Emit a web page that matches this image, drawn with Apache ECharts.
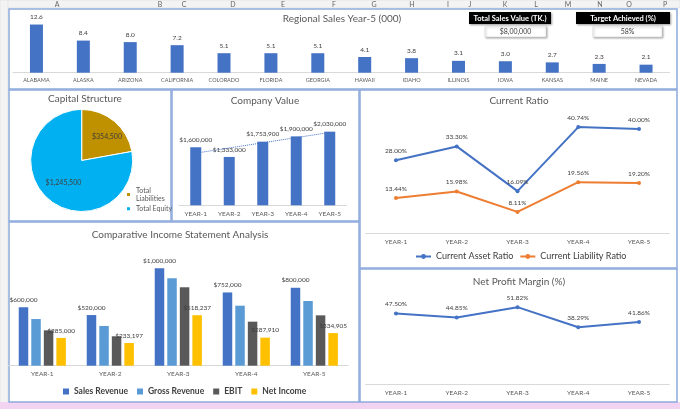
<!DOCTYPE html>
<html>
<head>
<meta charset="utf-8">
<script src="https://cdn.jsdelivr.net/npm/echarts@6/dist/echarts.min.js"></script>
<style>
html,body{margin:0;padding:0;background:#fff;}
#c{width:680px;height:409px;}
</style>
</head>
<body>
<div id="c"></div>
<script>
// ---------- data ----------
const regions = ['ALABAMA','ALASKA','ARIZONA','CALIFORNIA','COLORADO','FLORIDA','GEORGIA','HAWAII','IDAHO','ILLINOIS','IOWA','KANSAS','MAINE','NEVADA'];
const regionSales = [12.6, 8.4, 8.0, 7.2, 5.1, 5.1, 5.1, 4.1, 3.8, 3.1, 3.0, 2.7, 2.3, 2.1];
const years = ['YEAR-1','YEAR-2','YEAR-3','YEAR-4','YEAR-5'];
const companyValue = [1600000, 1333000, 1753900, 1900000, 2030000];
const capitalNames = ['Total Liabilities','Total Equity'];
const capitalValues = [354500, 1245500];
const currentAssetRatio = [28.00, 33.30, 16.09, 40.74, 40.00];
const currentLiabilityRatio = [13.44, 15.98, 8.11, 19.56, 19.20];
const netProfitMargin = [47.50, 44.85, 51.82, 38.29, 41.86];
const salesRevenue = [600000, 520000, 1000000, 752000, 800000];
const grossRevenue = [479000, 408000, 897000, 616000, 664000];
const ebit = [363000, 302000, 805000, 452000, 517000];
const netIncome = [285000, 233197, 518237, 287910, 334905];
const incomeNames = ['Sales Revenue','Gross Revenue','EBIT','Net Income'];
const columnLetters = ['A','B','C','D','E','F','G','H','I','J','K','L','M','N','O','P'];
const kpiTitles = ['Total Sales Value (TK.)','Target Achieved (%)'];
const kpiValues = ['$8,00,000','58%'];

// ---------- helpers ----------
const FONT = 'Lato, "Open Sans", sans-serif';
const TXT = '#595959';
const money = v => '$' + v.toLocaleString('en-US');
const pct = v => v.toFixed(2) + '%';

// linear trendline (Excel style) from company value data
function trend(vals){
  const n = vals.length; let sx=0, sy=0, sxy=0, sxx=0;
  vals.forEach((y,i)=>{const x=i+1; sx+=x; sy+=y; sxy+=x*y; sxx+=x*x;});
  const b = (n*sxy - sx*sy)/(n*sxx - sx*sx); const a = (sy - b*sx)/n;
  return vals.map((_,i)=>a + b*(i+1));
}

const catAxis = (grid, data, fs) => ({
  type:'category', gridIndex:grid, data:data,
  axisLine:{lineStyle:{color:'#d9d9d9', width:1}}, axisTick:{show:false},
  axisLabel:{color:TXT, fontSize:fs, fontFamily:FONT, margin:5, interval:0}
});
const valAxis = (grid, max) => ({type:'value', gridIndex:grid, min:0, max:max, show:false, splitLine:{show:false}});
const lbl = (fmt, fs) => ({show:true, position:'top', distance:4, color:'#404040', fontSize:fs||6.5, fontFamily:FONT, formatter:p=>fmt(p.value)});

// ---------- spreadsheet chrome ----------
const colX = [57,160,184,233,283,334,374,412,448,470,505,536,568,600,629,665];
const chrome = [];
chrome.push({type:'rect', shape:{x:0,y:0,width:680,height:409}, style:{fill:'#ffffff'}, silent:true, z:-10});
chrome.push({type:'rect', shape:{x:0,y:0,width:680,height:8}, style:{fill:'#f3f3f3', stroke:'#d4d4d4', lineWidth:0.5}, z:-9});
chrome.push({type:'rect', shape:{x:0,y:0,width:8,height:409}, style:{fill:'#f3f3f3', stroke:'#d4d4d4', lineWidth:0.5}, z:-9});
columnLetters.forEach((c,i)=>{
  chrome.push({type:'text', x:colX[i], y:4.5, style:{text:c, fill:'#666', fontSize:7, fontFamily:FONT, align:'center', verticalAlign:'middle'}, z:-8});
});
chrome.push({type:'rect', shape:{x:0,y:402,width:680,height:7}, style:{fill:'#f2d3f1'}, z:-8});
const panels = [[9,9,668,80],[9,90,162,131],[172,90,187,131],[360,90,317,178],[9,222,350,180],[360,269,317,133]];
panels.forEach(p=>chrome.push({type:'rect', shape:{x:p[0],y:p[1],width:p[2],height:p[3]}, style:{fill:'#fff', stroke:'#8eaadb', lineWidth:1.5}, z:-7}));
// KPI boxes
const kpiBoxes = [[469,12,82,12, 485,26,61,11],[576,12,94,12, 593,26,69,11]];
kpiBoxes.forEach((b,i)=>{
  chrome.push({type:'rect', shape:{x:b[0],y:b[1],width:b[2],height:b[3]}, style:{fill:'#000', shadowBlur:2, shadowColor:'rgba(0,0,0,0.4)', shadowOffsetX:1, shadowOffsetY:1}, z:5});
  chrome.push({type:'text', x:b[0]+b[2]/2, y:b[1]+b[3]/2+0.5, style:{text:kpiTitles[i], fill:'#fff', fontSize:7.5, fontWeight:'bold', fontFamily:FONT, align:'center', verticalAlign:'middle'}, z:6});
  chrome.push({type:'rect', shape:{x:b[4],y:b[5],width:b[6],height:b[7]}, style:{fill:'#fff', stroke:'#d0d0d0', lineWidth:0.5, shadowBlur:2, shadowColor:'rgba(0,0,0,0.35)', shadowOffsetX:1, shadowOffsetY:1}, z:5});
  chrome.push({type:'text', x:b[4]+b[6]/2, y:b[5]+b[7]/2+0.5, style:{text:kpiValues[i], fill:'#404040', fontSize:7, fontFamily:FONT, align:'center', verticalAlign:'middle'}, z:6});
});

const titleStyle = {color:TXT, fontSize:10, fontWeight:'normal', fontFamily:FONT};
const mkTitle = (text, x, y) => ({text:text, left:x, top:y, textAlign:'center', textVerticalAlign:'middle', textStyle:titleStyle, padding:0});

const option = {
  animation:false,
  textStyle:{fontFamily:FONT},
  graphic:chrome,
  title:[
    mkTitle('Regional Sales Year-5 (000)', 342, 19),
    mkTitle('Capital Structure', 85, 99),
    mkTitle('Company Value', 265, 101),
    mkTitle('Current Ratio', 519, 101),
    mkTitle('Comparative Income Statement Analysis', 180, 235),
    mkTitle('Net Profit Margin (%)', 519, 282)
  ],
  legend:[
    {data:capitalNames, orient:'vertical', left:125, top:187, itemWidth:5, itemHeight:5, itemGap:3,
     textStyle:{color:TXT, fontSize:7, fontFamily:FONT, lineHeight:7.5},
     formatter:n=> n==='Total Liabilities' ? 'Total\nLiabilities' : n, padding:0},
    {data:['Current Asset Ratio','Current Liability Ratio'], left:415, top:252, itemWidth:15, itemHeight:6, itemGap:6,
     textStyle:{color:'#404040', fontSize:9, fontFamily:FONT}, padding:0},
    {data:incomeNames, left:63, top:387, itemWidth:6, itemHeight:6, itemGap:9,
     textStyle:{color:'#404040', fontSize:8.5, fontFamily:FONT, fontWeight:'bold'}, padding:0, icon:'rect'}
  ],
  grid:[
    {left:13, right:10.5, top:23, bottom:336.3},
    {left:179, right:333.5, top:125.5, bottom:203.7},
    {left:365.6, right:10.6, top:116, bottom:176},
    {left:365.6, right:10.6, top:295, bottom:24.7},
    {left:8.3, right:331.7, top:248.8, bottom:43.3}
  ],
  xAxis:[
    catAxis(0, regions, 5.5),
    catAxis(1, years, 6.5),
    catAxis(2, years, 6.5),
    catAxis(3, years, 6.5),
    catAxis(4, years, 6.5)
  ],
  yAxis:[
    valAxis(0, 13), valAxis(1, 2200000), valAxis(2, 45), valAxis(3, 60), valAxis(4, 1200000)
  ],
  series:[
    {type:'bar', xAxisIndex:0, yAxisIndex:0, data:regionSales, barWidth:13, itemStyle:{color:'#4472C4'}, label:lbl(v=>v.toFixed(1), 6.5)},
    {type:'bar', xAxisIndex:1, yAxisIndex:1, data:companyValue, barWidth:11, itemStyle:{color:'#4472C4'}, label:lbl(money, 6.5)},
    {type:'line', xAxisIndex:1, yAxisIndex:1, data:trend(companyValue), symbol:'none', lineStyle:{color:'#4472C4', width:1, type:'dotted'}, z:5},
    {type:'pie', center:[81.7,160.5], radius:51, startAngle:90, clockwise:true,
     data:capitalNames.map((n,i)=>({name:n, value:capitalValues[i], label: i===0 ? {offset:[7,-2]} : {}})),
     color:['#BF9000','#00B0F0'], itemStyle:{borderColor:'#fff', borderWidth:1},
     label:{show:true, position:'inside', color:'#404040', fontSize:7, fontFamily:FONT, formatter:p=>money(p.value)},
     labelLine:{show:false}},
    {name:'Current Asset Ratio', type:'line', xAxisIndex:2, yAxisIndex:2, data:currentAssetRatio, color:'#4472C4',
     symbol:'circle', symbolSize:4, lineStyle:{width:2}, label:lbl(pct, 6.5)},
    {name:'Current Liability Ratio', type:'line', xAxisIndex:2, yAxisIndex:2, data:currentLiabilityRatio, color:'#ED7D31',
     symbol:'circle', symbolSize:4, lineStyle:{width:2}, label:lbl(pct, 6.5)},
    {type:'line', xAxisIndex:3, yAxisIndex:3, data:netProfitMargin, color:'#4472C4',
     symbol:'circle', symbolSize:4, lineStyle:{width:2}, label:lbl(pct, 6.5)},
    {name:'Sales Revenue', type:'bar', xAxisIndex:4, yAxisIndex:4, data:salesRevenue, barWidth:9.5, barGap:'32%', itemStyle:{color:'#4472C4'}, label:lbl(money, 6.5)},
    {name:'Gross Revenue', type:'bar', xAxisIndex:4, yAxisIndex:4, data:grossRevenue, barWidth:9.5, barGap:'32%', itemStyle:{color:'#5B9BD5'}},
    {name:'EBIT', type:'bar', xAxisIndex:4, yAxisIndex:4, data:ebit, barWidth:9.5, barGap:'32%', itemStyle:{color:'#595959'}},
    {name:'Net Income', type:'bar', xAxisIndex:4, yAxisIndex:4, data:netIncome, barWidth:9.5, barGap:'32%', itemStyle:{color:'#FFC000'}, label:lbl(money, 6.5)}
  ]
};
const chart = echarts.init(document.getElementById('c'), null, {renderer:'canvas'});
chart.setOption(option);
</script>
</body>
</html>
